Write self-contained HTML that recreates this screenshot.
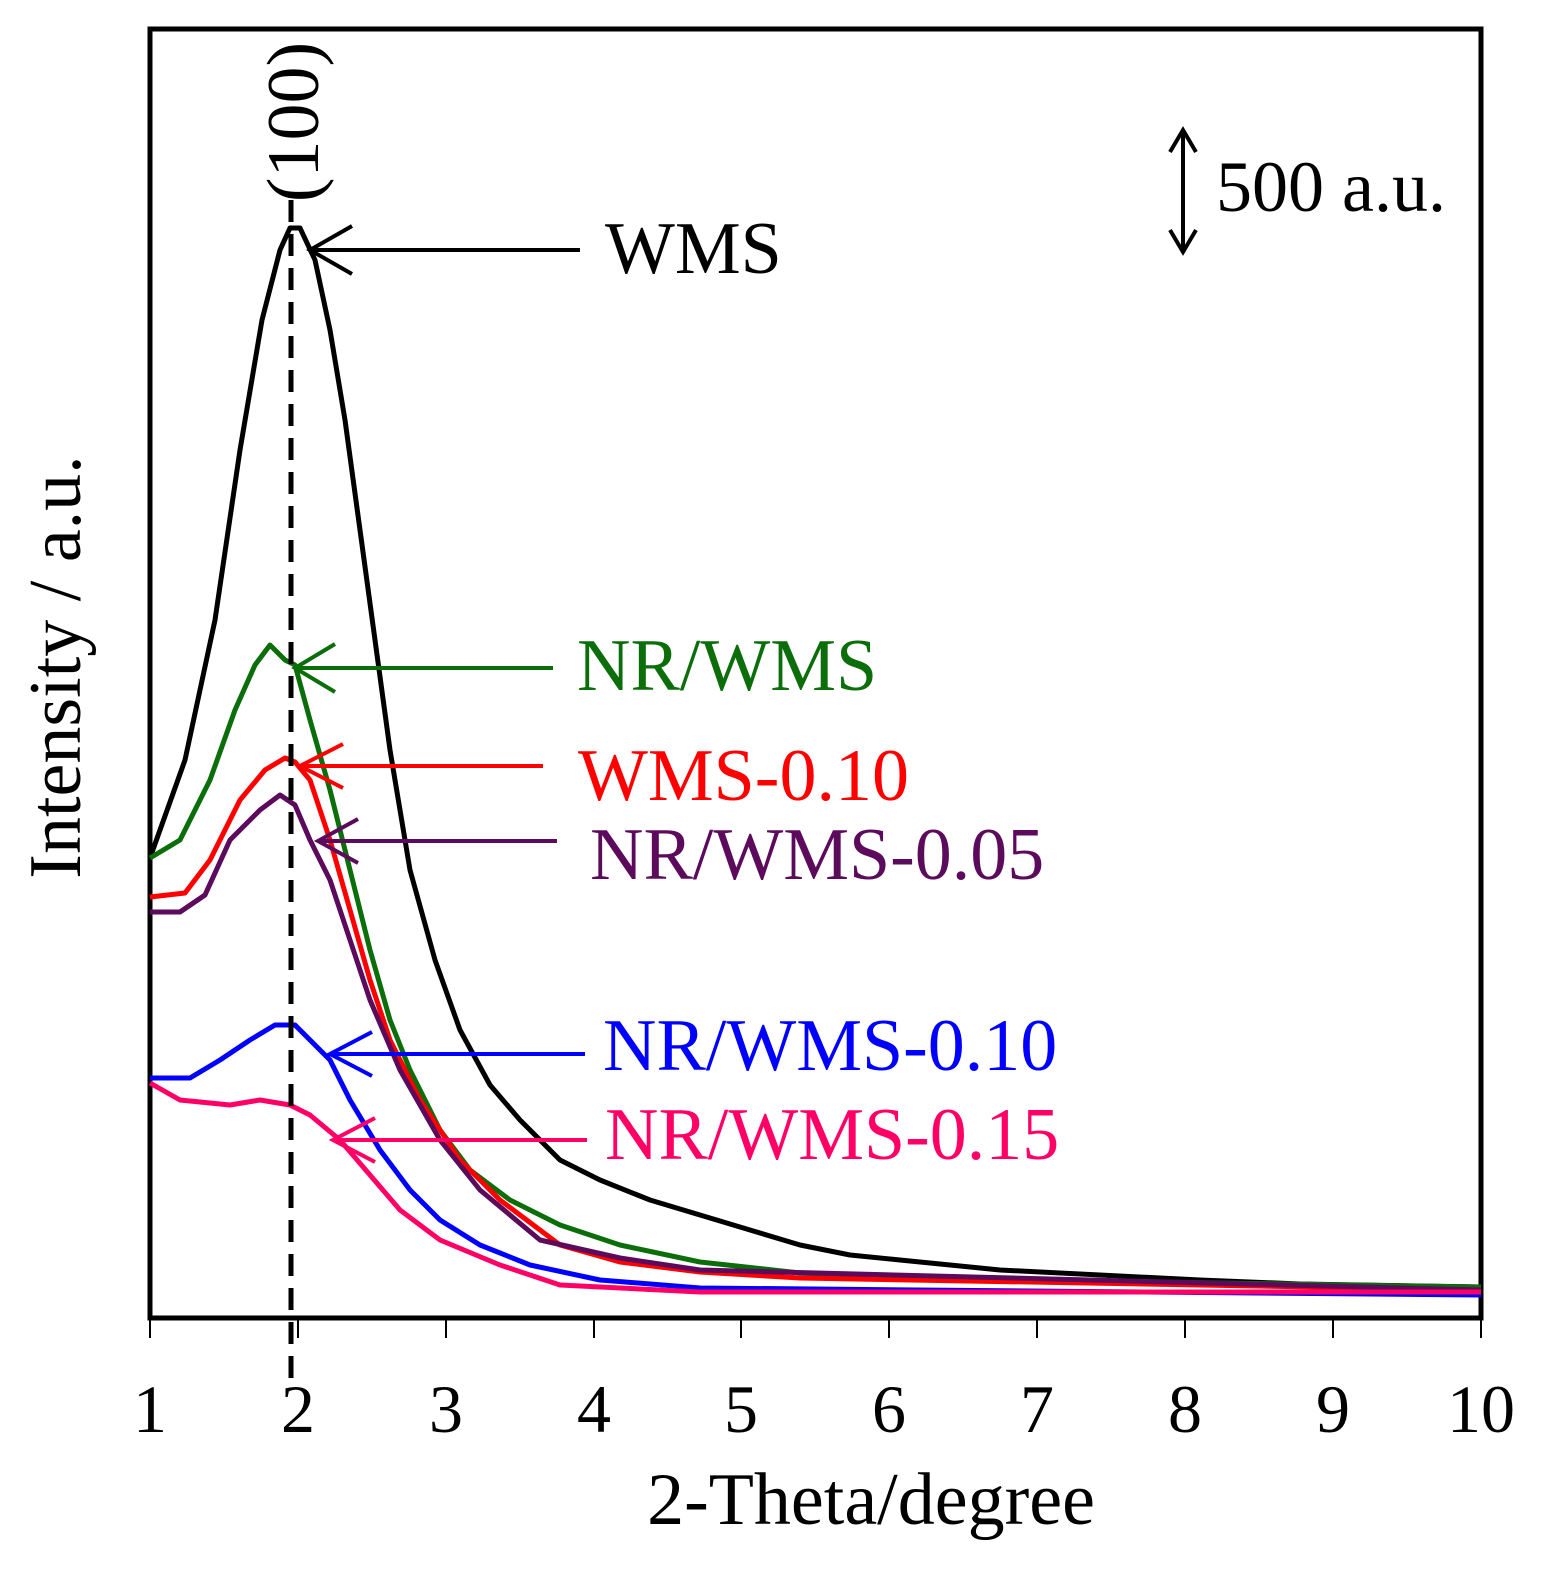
<!DOCTYPE html>
<html><head><style>body{margin:0;background:#fff}svg{display:block}</style></head><body>
<svg width="1556" height="1580" viewBox="0 0 1556 1580" xmlns="http://www.w3.org/2000/svg" font-family="Liberation Serif, serif">
<rect x="150" y="29" width="1331" height="1289" fill="none" stroke="#000" stroke-width="5"/>
<g stroke="#000" stroke-width="2">
<line x1="150" y1="1318" x2="150" y2="1338"/><line x1="298" y1="1318" x2="298" y2="1338"/><line x1="446" y1="1318" x2="446" y2="1338"/><line x1="594" y1="1318" x2="594" y2="1338"/><line x1="741" y1="1318" x2="741" y2="1338"/><line x1="889" y1="1318" x2="889" y2="1338"/><line x1="1037" y1="1318" x2="1037" y2="1338"/><line x1="1185" y1="1318" x2="1185" y2="1338"/><line x1="1333" y1="1318" x2="1333" y2="1338"/><line x1="1481" y1="1318" x2="1481" y2="1338"/>
</g>
<g font-size="68" text-anchor="middle">
<text x="150" y="1432">1</text><text x="298" y="1432">2</text><text x="446" y="1432">3</text><text x="594" y="1432">4</text><text x="741" y="1432">5</text><text x="889" y="1432">6</text><text x="1037" y="1432">7</text><text x="1185" y="1432">8</text><text x="1333" y="1432">9</text><text x="1481" y="1432">10</text>
</g>
<text x="871" y="1524" font-size="74" text-anchor="middle">2-Theta/degree</text>
<text transform="translate(80,667) rotate(-90)" font-size="74" text-anchor="middle">Intensity / a.u.</text>
<g fill="none" stroke-width="5" stroke-linejoin="round">
<polyline stroke="#000" points="150,858 185,760 215,620 240,450 262,320 280,250 290,228 300,228 315,260 330,330 345,420 360,530 375,640 390,750 410,870 435,960 460,1030 490,1085 520,1120 560,1160 600,1180 650,1200 700,1215 750,1230 800,1245 850,1255 900,1260 1000,1270 1100,1275 1200,1280 1300,1284 1481,1287"/>
<polyline stroke="#0b6e0b" points="150,858 180,840 210,780 235,710 255,665 270,645 285,660 295,665 310,720 330,790 350,870 370,950 390,1020 410,1070 440,1130 470,1170 510,1200 560,1225 620,1245 700,1262 800,1273 900,1278 1481,1287"/>
<polyline stroke="#ff0000" points="150,897 185,893 210,860 240,800 265,770 285,758 295,762 310,780 330,840 350,910 370,980 390,1040 420,1100 460,1160 500,1200 560,1245 620,1262 700,1272 800,1278 1481,1290"/>
<polyline stroke="#5c0a5c" points="150,912 180,912 205,895 230,840 260,810 280,795 295,805 310,840 330,880 350,940 370,1000 400,1070 440,1140 480,1190 540,1240 620,1258 700,1270 1481,1290"/>
<polyline stroke="#0000ff" points="150,1078 190,1078 220,1060 250,1040 275,1025 295,1025 310,1040 330,1060 350,1100 380,1150 410,1190 440,1220 480,1245 530,1265 600,1280 700,1288 1481,1295"/>
<polyline stroke="#ff0066" points="150,1083 180,1100 230,1105 260,1100 290,1105 310,1115 340,1140 370,1175 400,1210 440,1240 500,1265 560,1285 700,1292 1481,1292"/>
</g>
<line x1="291" y1="200" x2="291" y2="1388" stroke="#000" stroke-width="5" stroke-dasharray="22,12"/>
<text transform="translate(318,122) rotate(-90)" font-size="74" text-anchor="middle">(100)</text>
<g fill="none" stroke-width="4">
<path stroke="#000" d="M580,250H310M352,226L310,250L352,274"/>
<path stroke="#0b6e0b" d="M553,668H295M335,644L295,668L335,692"/>
<path stroke="#ff0000" d="M543,766H300M343,744L300,766L343,788"/>
<path stroke="#5c0a5c" d="M557,841H318M358,819L318,841L358,863"/>
<path stroke="#0000ff" d="M585,1054H330M372,1032L330,1054L372,1076"/>
<path stroke="#ff0066" d="M587,1140H333M375,1118L333,1140L375,1162"/>
<path stroke="#000" d="M1183,130V252M1170,152L1183,130L1196,152M1170,230L1183,252L1196,230"/>
</g>
<g font-size="74">
<text x="605" y="273" fill="#000">WMS</text>
<text x="577" y="690" fill="#0b6e0b">NR/WMS</text>
<text x="578" y="800" fill="#ff0000">WMS-0.10</text>
<text x="590" y="879" fill="#5c0a5c">NR/WMS-0.05</text>
<text x="603" y="1070" fill="#0000ff">NR/WMS-0.10</text>
<text x="605" y="1159" fill="#ff0066">NR/WMS-0.15</text>
</g>
<text x="1216" y="211" font-size="72">500 a.u.</text>
</svg>
</body></html>
